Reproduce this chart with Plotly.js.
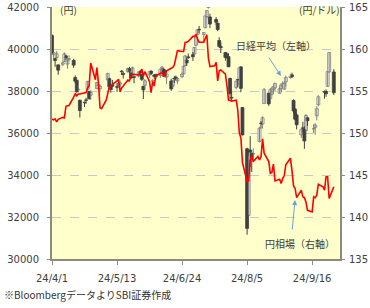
<!DOCTYPE html>
<html><head><meta charset="utf-8">
<script src="https://cdn.plot.ly/plotly-3.0.1.min.js"></script>
<style>html,body{margin:0;padding:0;background:#fff}#chart{width:370px;height:308px}</style>
</head><body><div id="chart"></div>
<script>
// 日経平均 (daily OHLC)
const nikkeiDates = [
"2024-04-01","2024-04-02","2024-04-03","2024-04-04","2024-04-05","2024-04-08","2024-04-09","2024-04-10","2024-04-11","2024-04-12","2024-04-15","2024-04-16","2024-04-17","2024-04-18","2024-04-19","2024-04-22","2024-04-23","2024-04-24","2024-04-25","2024-04-26","2024-04-30",
"2024-05-01","2024-05-02","2024-05-07","2024-05-08","2024-05-09","2024-05-10","2024-05-13","2024-05-14","2024-05-15","2024-05-16","2024-05-17","2024-05-20","2024-05-21","2024-05-22","2024-05-23","2024-05-24","2024-05-27","2024-05-28","2024-05-29","2024-05-30","2024-05-31",
"2024-06-03","2024-06-04","2024-06-05","2024-06-06","2024-06-07","2024-06-10","2024-06-11","2024-06-12","2024-06-13","2024-06-14","2024-06-17","2024-06-18","2024-06-19","2024-06-20","2024-06-21","2024-06-24","2024-06-25","2024-06-26","2024-06-27","2024-06-28",
"2024-07-01","2024-07-02","2024-07-03","2024-07-04","2024-07-05","2024-07-08","2024-07-09","2024-07-10","2024-07-11","2024-07-12","2024-07-16","2024-07-17","2024-07-18","2024-07-19","2024-07-22","2024-07-23","2024-07-24","2024-07-25","2024-07-26","2024-07-29","2024-07-30","2024-07-31",
"2024-08-01","2024-08-02","2024-08-05","2024-08-06","2024-08-07","2024-08-08","2024-08-09","2024-08-13","2024-08-14","2024-08-15","2024-08-16","2024-08-19","2024-08-20","2024-08-21","2024-08-22","2024-08-23","2024-08-26","2024-08-27","2024-08-28","2024-08-29","2024-08-30",
"2024-09-02","2024-09-03","2024-09-04","2024-09-05","2024-09-06","2024-09-09","2024-09-10","2024-09-11","2024-09-12","2024-09-13","2024-09-17","2024-09-18","2024-09-19","2024-09-20","2024-09-24","2024-09-25","2024-09-26","2024-09-27","2024-09-30"];
const nikkeiOpen = [
40646,39731,39554,39598,39245,39272,39412,39671,39283,39509,39458,38641,38506,38060,37565,37464,37562,38082,37985,37800,38114,
38264,38114,38524,38590,38196,38310,38206,38282,38327,38940,38833,38918,39067,38853,38735,38679,38718,38928,38796,38225,38272,
38761,38944,38466,38758,38789,38737,39079,39046,38977,38664,38475,38227,38600,38653,38481,38677,38815,39214,39476,39624,
39728,39762,40175,40690,40917,40686,41011,41545,41979,41526,41403,41235,40406,40120,39828,39753,39638,38600,37677,38162,38526,38342,
39148,37212,35250,32077,35190,35035,35003,35600,36466,36430,37400,37897,37640,37850,38081,38145,37894,38108,38225,38090,38430,
38644,38766,37553,37132,36860,35917,36246,36169,36117,36726,36186,36265,36819,37349,37969,37976,38224,38911,38906];
const nikkeiHigh = [
40697,39839,39560,39900,39245,39411,39838,39717,39631,39699,39532,38745,38530,38307,37565,37498,37680,38473,38004,38038,38432,
38379,38309,38863,38635,38304,38527,38366,38428,38496,39000,38903,39115,39155,38931,39169,38747,38908,39004,38811,38226,38576,
38938,38990,38566,38803,38816,39041,39196,39088,39020,38953,38590,38523,38719,38735,38625,38876,39219,39724,39565,39788,
39857,40074,40580,40913,41100,40801,41580,41831,42426,41678,41520,41235,40560,40302,39867,39832,39800,38634,37998,38511,38526,39134,
39175,37226,35300,34911,35849,35068,35266,36301,36574,36796,38140,37905,38149,38184,38249,38400,38221,38339,38461,38429,38738,
38821,38872,37600,37193,36938,36249,36534,36313,36900,36762,36423,36474,37280,37800,38027,38078,38926,39829,39040];
const nikkeiLow = [
39773,39502,39149,39459,38774,39188,39388,39484,39066,39421,39097,38370,37916,37940,36733,37236,37390,38042,37608,37569,38084,
38134,37936,38436,38119,37919,38193,37962,38132,38191,38755,38587,38868,38859,38569,38700,38367,38658,38722,38473,37617,38107,
38627,38761,38377,38582,38558,38626,38979,38799,38640,38325,38005,38182,38379,38503,38338,38615,38813,39193,39199,39533,
39433,39752,40116,40646,40749,40349,40991,41462,41928,40995,41141,40847,40077,39810,39444,39535,39154,37600,37550,38083,38198,38170,
37941,35881,31156,32077,34383,34145,34606,35541,36222,36211,37400,37288,37629,37789,37870,38002,37889,37945,38163,38066,38215,
38586,38615,36924,36596,36172,35755,36036,35247,36063,36334,35987,35917,36600,37276,37632,37722,38208,38857,37808];
const nikkeiClose = [
39803,39838,39451,39773,38992,39347,39773,39581,39442,39523,39232,38471,37962,38079,37068,37438,37552,38460,37628,37934,38405,
38274,38236,38835,38202,38073,38229,38179,38356,38385,38920,38787,39069,38946,38617,39103,38646,38900,38855,38556,38054,38487,
38923,38837,38490,38703,38683,39038,39134,38876,38720,38814,38102,38482,38570,38633,38596,38804,39173,39667,39341,39583,
39631,40074,40580,40913,40912,40780,41580,41831,42224,41190,41275,40926,40126,40063,39599,39594,39154,37869,37667,38468,38525,39101,
38126,35909,31458,34675,35089,34831,35025,36232,36442,36726,38062,37388,38062,37951,38211,38364,38110,38288,38371,38362,38647,
38700,38686,37047,36657,36391,36159,36215,35619,36833,36581,36203,36380,37155,37723,37940,37870,38926,39829,37919];

// 円相場 (円/ドル)
const fxDates = [
"2024-04-01","2024-04-02","2024-04-03","2024-04-04","2024-04-05","2024-04-08","2024-04-09","2024-04-10","2024-04-11","2024-04-12","2024-04-15","2024-04-16","2024-04-17","2024-04-18","2024-04-19","2024-04-22","2024-04-23","2024-04-24","2024-04-25","2024-04-26","2024-04-29","2024-04-30",
"2024-05-01","2024-05-02","2024-05-03","2024-05-06","2024-05-07","2024-05-08","2024-05-09","2024-05-10","2024-05-13","2024-05-14","2024-05-15","2024-05-16","2024-05-17","2024-05-20","2024-05-21","2024-05-22","2024-05-23","2024-05-24","2024-05-27","2024-05-28","2024-05-29","2024-05-30","2024-05-31",
"2024-06-03","2024-06-04","2024-06-05","2024-06-06","2024-06-07","2024-06-10","2024-06-11","2024-06-12","2024-06-13","2024-06-14","2024-06-17","2024-06-18","2024-06-19","2024-06-20","2024-06-21","2024-06-24","2024-06-25","2024-06-26","2024-06-27","2024-06-28",
"2024-07-01","2024-07-02","2024-07-03","2024-07-04","2024-07-05","2024-07-08","2024-07-09","2024-07-10","2024-07-11","2024-07-12","2024-07-15","2024-07-16","2024-07-17","2024-07-18","2024-07-19","2024-07-22","2024-07-23","2024-07-24","2024-07-25","2024-07-26","2024-07-29","2024-07-30","2024-07-31",
"2024-08-01","2024-08-02","2024-08-05","2024-08-06","2024-08-07","2024-08-08","2024-08-09","2024-08-12","2024-08-13","2024-08-14","2024-08-15","2024-08-16","2024-08-19","2024-08-20","2024-08-21","2024-08-22","2024-08-23","2024-08-26","2024-08-27","2024-08-28","2024-08-29","2024-08-30",
"2024-09-02","2024-09-03","2024-09-04","2024-09-05","2024-09-06","2024-09-09","2024-09-10","2024-09-11","2024-09-12","2024-09-13","2024-09-16","2024-09-17","2024-09-18","2024-09-19","2024-09-20","2024-09-23","2024-09-24","2024-09-25","2024-09-26","2024-09-27","2024-09-30"];
const fxClose = [
151.67,151.56,151.68,151.32,151.62,151.86,151.79,153.17,153.24,153.28,154.26,154.71,154.41,154.63,154.64,154.81,154.82,155.34,155.63,158.33,156.35,157.79,
156.0,153.0,152.9,153.9,154.6,155.5,155.5,155.8,156.2,156.4,154.9,155.4,155.6,156.3,156.2,156.8,157.0,157.0,156.9,157.2,157.6,156.8,157.3,
156.1,154.8,156.1,155.6,156.8,157.1,157.2,156.7,157.1,157.4,157.7,157.8,158.1,158.9,159.8,159.7,159.7,160.8,160.8,160.9,
161.5,161.5,161.7,161.2,160.8,160.8,161.3,161.7,158.9,157.9,158.0,158.4,156.2,157.4,157.5,157.0,155.6,153.9,153.9,153.8,153.9,152.7,150.0,
149.4,146.5,144.2,144.3,146.8,147.3,146.6,147.2,146.8,147.2,149.3,147.6,146.6,145.2,145.3,146.3,144.3,144.5,144.0,144.6,144.9,146.2,
147.0,145.5,143.7,143.4,142.3,143.2,142.4,142.3,141.8,140.8,140.6,142.4,142.3,142.6,143.9,143.6,143.2,144.8,144.8,142.2,143.6];

const xTickVals = ["2024-04-01","2024-05-13","2024-06-24","2024-08-05","2024-09-16"];
const xTickText = ["24/4/1","24/5/13","24/6/24","24/8/5","24/9/16"];

const DAY = 86400000;
const AXIS = '#8c8c7c';
const upBody = {x:[], base:[], y:[]}, dnBody = {x:[], base:[], y:[]};
const upWick = {x:[], y:[]}, dnWick = {x:[], y:[]};
nikkeiDates.forEach((d, i) => {
  const o = nikkeiOpen[i], c = nikkeiClose[i];
  const isUp = c >= o;
  const b = isUp ? upBody : dnBody, w = isUp ? upWick : dnWick;
  b.x.push(d); b.base.push(Math.min(o, c)); b.y.push(Math.max(Math.abs(c - o), 25));
  w.x.push(d, d, null); w.y.push(nikkeiLow[i], nikkeiHigh[i], null);
});

const traces = [
  {type:'scatter', mode:'lines', x:upWick.x, y:upWick.y, line:{color:'#808080', width:1}, hoverinfo:'skip', connectgaps:false},
  {type:'scatter', mode:'lines', x:dnWick.x, y:dnWick.y, line:{color:'#404040', width:1}, hoverinfo:'skip', connectgaps:false},
  {type:'bar', x:upBody.x, base:upBody.base, y:upBody.y, width:1.9*DAY, marker:{color:'#ffffff', line:{color:'#7a7a7a', width:0.8}}},
  {type:'bar', x:dnBody.x, base:dnBody.base, y:dnBody.y, width:1.9*DAY, marker:{color:'#404040', line:{color:'#404040', width:0.8}}},
  {type:'scatter', mode:'lines', x:fxDates, y:fxClose, yaxis:'y2', line:{color:'#ff0000', width:1.6}}
];

const annFont = {family:'Noto Sans CJK JP, DejaVu Sans, sans-serif', size:10, color:'#404040'};
const layout = {
  width:370, height:308,
  margin:{l:52, r:30, t:7, b:49, pad:0},
  paper_bgcolor:'#ffffff', plot_bgcolor:'#ffffcc',
  showlegend:false, barmode:'overlay',
  font:{family:'DejaVu Sans, Noto Sans CJK JP, sans-serif', size:10, color:'#404040'},
  xaxis:{type:'date', range:['2024-04-01','2024-10-04'], tickmode:'array', tickvals:xTickVals, ticktext:xTickText,
    ticks:'outside', ticklen:4, tickcolor:AXIS, showline:true, linecolor:AXIS, linewidth:2, showgrid:false, zeroline:false,
    ticklabelstandoff:5},
  yaxis:{range:[30000,42000], tick0:30000, dtick:2000, tickformat:'d', ticks:'outside', ticklen:3, tickcolor:AXIS, showline:true, linecolor:AXIS, linewidth:2,
    showgrid:true, gridcolor:'#c8c8c8', griddash:'dash', gridwidth:1, zeroline:false, ticklabelstandoff:6},
  yaxis2:{overlaying:'y', side:'right', range:[135,165], tick0:135, dtick:5, tickformat:'d', ticks:'outside', ticklen:3, tickcolor:AXIS, showline:true,
    linecolor:AXIS, linewidth:2, showgrid:false, zeroline:false, ticklabelstandoff:2},
  annotations:[
    {xref:'paper', yref:'paper', x:0.056, y:0.992, text:'(円)', showarrow:false, font:annFont, xanchor:'center', yanchor:'middle'},
    {xref:'paper', yref:'paper', x:0.93, y:0.992, text:'(円/ドル)', showarrow:false, font:annFont, xanchor:'center', yanchor:'middle'},
    {xref:'paper', yref:'paper', x:0.778, y:0.849, text:'日経平均（左軸）', showarrow:false, font:annFont, xanchor:'center', yanchor:'middle'},
    {xref:'paper', yref:'paper', x:0.861, y:0.063, text:'円相場（右軸）', showarrow:false, font:annFont, xanchor:'center', yanchor:'middle'},
    {xref:'paper', yref:'paper', x:0.795, y:0.726, text:'', showarrow:true, ax:-13, ay:-20, arrowcolor:'#6a9fd0', arrowhead:2, arrowsize:1, arrowwidth:1},
    {xref:'paper', yref:'paper', x:0.844, y:0.234, text:'', showarrow:true, ax:-3, ay:31, arrowcolor:'#6a9fd0', arrowhead:2, arrowsize:1, arrowwidth:1},
    {xref:'paper', yref:'paper', x:-0.174, y:-0.139, text:'※BloombergデータよりSBI証券作成', showarrow:false, font:{family:'Noto Sans CJK JP, sans-serif', size:10, color:'#333333'}, xanchor:'left', yanchor:'middle'}
  ]
};
Plotly.newPlot('chart', traces, layout, {staticPlot:true, displayModeBar:false});
</script>
</body></html>
